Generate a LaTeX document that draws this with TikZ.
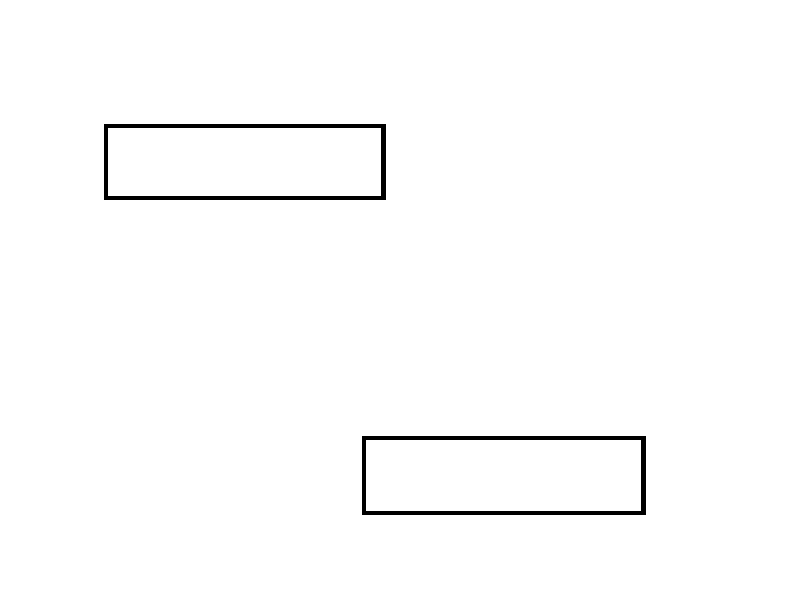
\documentclass[tikz,border=0pt]{standalone}
\begin{document}
\begin{tikzpicture}[x=1pt,y=-1pt,
  boxnode/.style={draw=black, line width=4.6pt, rectangle, inner sep=0pt, outer sep=0pt}]
\useasboundingbox (0,0) rectangle (800,595);
\node[boxnode, minimum width=277.5pt, minimum height=72pt] (a) at (244.75,162) {};
\node[boxnode, minimum width=279.5pt, minimum height=75pt] (b) at (503.75,475.5) {};
\end{tikzpicture}
\end{document}
